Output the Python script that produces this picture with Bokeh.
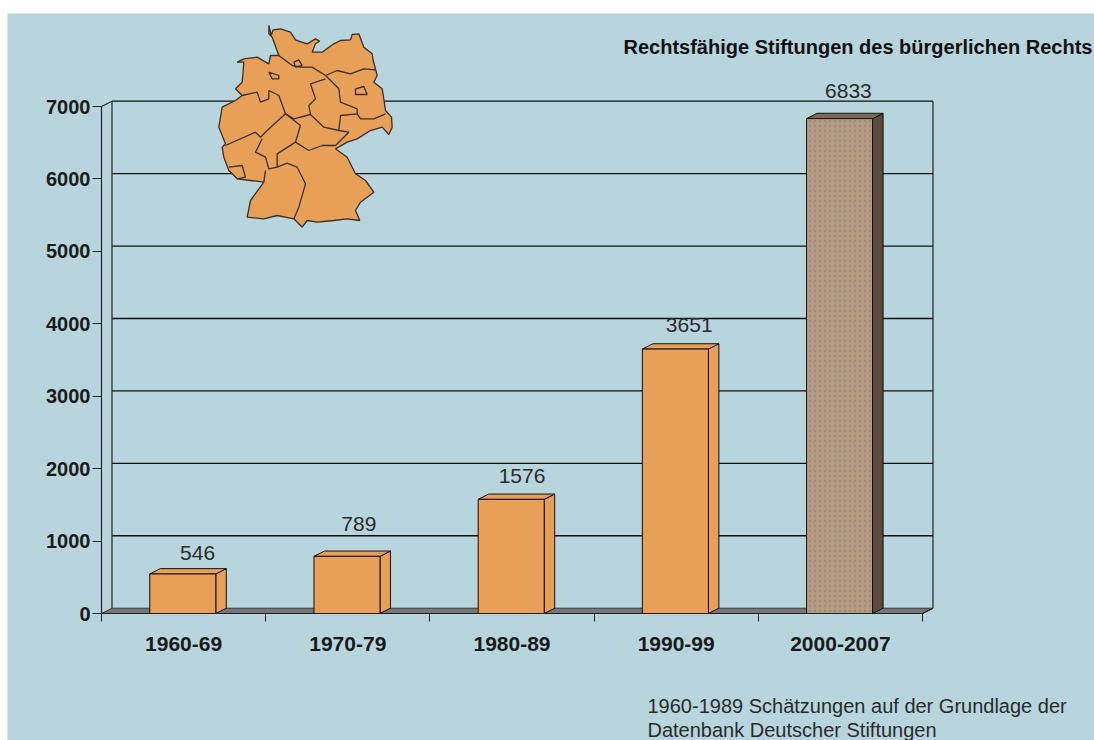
from bokeh.plotting import figure
from bokeh.models import Range1d, FixedTicker, Label, LinearAxis
from bokeh.core.properties import value
from bokeh.embed import file_html
from bokeh.resources import INLINE

# ---------- data ----------
categories = ["1960-69", "1970-79", "1980-89", "1990-99", "2000-2007"]
counts = [546, 789, 1576, 3651, 6833]
y_ticks = [0, 1000, 2000, 3000, 4000, 5000, 6000, 7000]
title = "Rechtsfähige Stiftungen des bürgerlichen Rechts"
note_lines = ["1960-1989 Schätzungen auf der Grundlage der", "Datenbank Deutscher Stiftungen"]

# ---------- map of Germany, in its own coordinate system ----------
germany_x = [205,212,218,240,270,285,295,320,345,357,345,335,365,400,420,450,455,475,490,515,518,525,530,520,545,550,555,573,575,565,545,510,470,440,405,440,465,495,520,480,465,478,440,400,350,320,305,280,230,190,140,150,190,150,110,85,70,65,75,55,65,105,125,105,125,130,110,130,170,205,210,235,215,205]
germany_y = [45,75,58,55,65,88,92,100,85,92,100,125,125,100,90,88,72,70,110,130,150,175,195,215,235,265,300,320,350,372,350,360,385,395,415,440,490,510,545,575,600,630,625,630,635,630,650,625,615,625,620,570,515,510,505,480,440,410,400,350,290,270,255,235,215,155,155,145,140,160,135,135,80,70]
border_x = [
    [235,275,300,335,375], [280,295,305,285,280], [375,410,450,490,525],
    [375,415,420,470,470,420,415,370,330,325,345,330,375], [470,480,520,555],
    [125,170,180,205,205,235,255], [255,200,180,165,75],
    [255,300,285,230,230,205,195,165,185], [255,280,330],
    [285,325,365,405,445,415], [230,260,290,315,295,280], [195,190],
    [85,125,135,110], [205,235,235,215,205], [465,490,500,465,465],
]
border_y = [
    [135,165,170,170,195], [155,148,165,170,155], [195,180,190,175,178],
    [195,235,275,295,310,315,360,350,312,285,265,220,205], [310,325,325,310],
    [255,245,275,265,240,255,310], [310,360,380,365,405],
    [310,345,395,430,470,475,440,425,385], [310,325,312],
    [395,420,405,405,365,360], [470,458,470,520,590,625], [480,515],
    [470,465,500,505], [185,195,205,205,185], [235,228,252,252,235],
]

# ---------- layout constants ----------
BG = "#B8D5DE"
ORANGE = "#E89F58"
INK = "#1a1a1a"
FONT = value("Liberation Sans")
PAGE_X, PAGE_Y = 7, 13          # where the blue panel starts in the page
W, H = 1094 - PAGE_X, 740 - PAGE_Y
LEFT, BOTTOM = 94, 127          # pixels from the panel's edges to the axes
CAT_PX = 164.2
VAL_PX = 507 / 7000
DX = 10.5 / CAT_PX
DY = 5.3 / VAL_PX
BAR_W = 0.402
BAR_SHIFT = -0.005

p = figure(width=W, height=H, output_backend="svg", toolbar_location=None,
           x_range=Range1d(-LEFT / CAT_PX, (W - LEFT) / CAT_PX),
           y_range=Range1d(-BOTTOM / VAL_PX, (H - BOTTOM) / VAL_PX),
           x_axis_type=None, y_axis_type=None,
           min_border_left=0, min_border_right=0, min_border_top=0, min_border_bottom=0,
           background_fill_color=BG, border_fill_color=BG, outline_line_color=None)
p.margin = (PAGE_Y, 0, 0, PAGE_X)
p.grid.visible = False

# map coordinates: 3 units per pixel, origin of the map crop at page pixel (200, 10)
p.extra_x_ranges["map"] = Range1d((PAGE_X - 200) * 3, (PAGE_X + W - 200) * 3)
p.extra_y_ranges["map"] = Range1d((PAGE_Y + H - 10) * 3, (PAGE_Y - 10) * 3)

n = len(categories)
# walls and floor
p.patch([0, n, n + DX, DX], [0, 0, DY, DY], fill_color="#77777a", line_color="#222222", line_width=0.8)
p.segment(x0=[DX] * len(y_ticks[1:]), y0=[t + DY for t in y_ticks[1:]],
          x1=[n + DX] * len(y_ticks[1:]), y1=[t + DY for t in y_ticks[1:]],
          line_color="#111111", line_width=1.3)
p.segment(x0=[DX, n + DX, 0, n], y0=[DY, DY, 7000, 0],
          x1=[DX, n + DX, DX, n + DX], y1=[7000 + DY, 7000 + DY, 7000 + DY, DY],
          line_color="#222222", line_width=1.2)

# map
p.patch(germany_x, germany_y, x_range_name="map", y_range_name="map",
        fill_color=ORANGE, line_color="#3a3028", line_width=1.3)
p.multi_line(border_x, border_y, x_range_name="map", y_range_name="map",
             line_color="#3a3028", line_width=1.3)

# bars
for i, v in enumerate(counts):
    c = i + 0.5 + BAR_SHIFT
    l, r = c - BAR_W / 2, c + BAR_W / 2
    last = i == n - 1
    side = "#5B4B3F" if last else ORANGE
    top = "#7B6A59" if last else ORANGE
    edge = "#111111"
    p.patch([r, r + DX, r + DX, r], [0, DY, v + DY, v], fill_color=side, line_color=edge, line_width=1)
    p.patch([l, l + DX, r + DX, r], [v, v + DY, v + DY, v], fill_color=top, line_color=edge, line_width=1)
    if last:
        p.quad(left=[l], right=[r], bottom=[0], top=[v], fill_color="#B79C80", line_color=edge, line_width=1,
               hatch_pattern="dot", hatch_color="#8E8A84", hatch_scale=5, hatch_alpha=0.8)
    else:
        p.quad(left=[l], right=[r], bottom=[0], top=[v], fill_color=ORANGE, line_color=edge, line_width=1)

# value labels
label_x = [i + 0.5 for i in range(n)]
p.text(x=label_x, y=counts, text=[str(v) for v in counts],
       x_offset=[14, 11, 10, 13, 8], y_offset=[-21, -32, -23, -24, -28],
       text_align="center", text_baseline="middle", text_font=FONT, text_font_size="21px", text_color="#2b2b2b")

# axes, fixed inside the full-size frame
yax = LinearAxis(ticker=FixedTicker(ticks=y_ticks), bounds=(0, 7000), fixed_location=0)
yax.axis_line_color = "#222222"
yax.axis_line_width = 1.2
yax.major_tick_line_color = "#222222"
yax.major_tick_out = 9
yax.major_tick_in = 0
yax.minor_tick_out = 0
yax.major_label_standoff = 2
yax.major_label_text_font = "Liberation Sans"
yax.major_label_text_font_style = "bold"
yax.major_label_text_font_size = "20px"
yax.major_label_text_color = INK
p.add_layout(yax, "left")

xax = LinearAxis(ticker=FixedTicker(ticks=label_x, minor_ticks=list(range(n + 1))), bounds=(0, n), fixed_location=0)
xax.major_label_overrides = {x: c for x, c in zip(label_x, categories)}
xax.axis_line_color = "#222222"
xax.axis_line_width = 1.2
xax.major_tick_out = 0
xax.major_tick_in = 0
xax.minor_tick_line_color = "#222222"
xax.minor_tick_out = 8
xax.minor_tick_in = 0
xax.major_label_standoff = 15
xax.major_label_text_font = "Liberation Sans"
xax.major_label_text_font_style = "bold"
xax.major_label_text_font_size = "21px"
xax.major_label_text_color = INK
p.add_layout(xax, "below")

# title & note: screen offsets are measured from the frame's lower left corner
p.add_layout(Label(x=623 - PAGE_X, y=740 - 46, x_units="screen", y_units="screen", text=title,
                   text_font="Liberation Sans", text_font_style="bold", text_font_size="20px",
                   text_color="#111111", text_baseline="middle"))
for t, py in zip(note_lines, [705, 729]):
    p.add_layout(Label(x=647 - PAGE_X, y=740 - py, x_units="screen", y_units="screen", text=t,
                       text_font="Liberation Sans", text_font_size="20px",
                       text_color="#2b2b2b", text_baseline="middle"))

open("out.html", "w").write(file_html(p, INLINE))
